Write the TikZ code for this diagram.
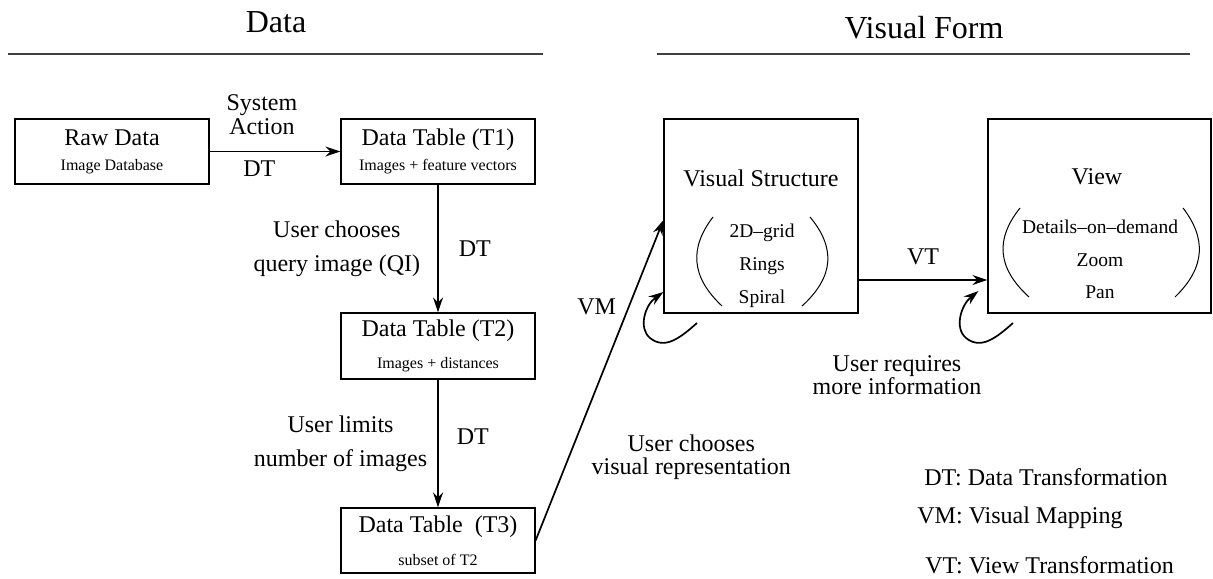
\documentclass[tikz,border=0pt]{standalone}
\usepackage{fontspec}
\setmainfont{Liberation Serif}
\usetikzlibrary{arrows.meta}
\newcommand{\boxnote}[1]{{\fontsize{8}{10}\selectfont #1}}
\tikzset{tbl/.style={draw,line width=0.6pt,minimum width=97pt,minimum height=32.5pt,
  align=center,inner sep=0pt,font=\fontsize{12}{14}\selectfont},
  bigbox/.style={draw,line width=0.6pt,minimum width=97pt,minimum height=97pt,inner sep=0pt},
  head/.style={font=\fontsize{16}{18}\selectfont,inner sep=0pt},
  rule/.style={line width=0.8pt,black!75},
  flow/.style={-{Stealth[length=7.5pt,width=5pt,inset=2.5pt]},line width=0.85pt},
  lab/.style={font=\fontsize{12}{11.8}\selectfont,align=center,inner sep=0pt},
  widelab/.style={lab,font=\fontsize{12}{16.8}\selectfont},
  list/.style={font=\fontsize{9.75}{16.4}\selectfont,align=center,inner sep=0pt},
  paren/.style={line width=0.5pt}}
\begin{document}
\begin{tikzpicture}[x=0.5pt,y=-0.5pt]
\useasboundingbox (0,0) rectangle (1213,578);
% headings
\node[head] (datahead) at (276,22) {Data};
\node[head] (formhead) at (924,28) {Visual Form};
\draw[rule] (8,54) -- (543,54);
\draw[rule] (657,54) -- (1190,54);
% data tables
\node[tbl] (raw) at (112,151.5) {Raw Data\\[-1.5pt]\boxnote{Image Database}};
\node[tbl] (tone) at (438,151.5) {Data Table (T1)\\[-1.5pt]\boxnote{Images + feature vectors}};
\node[tbl,minimum height=33pt] (ttwo) at (438,346) {Data Table (T2)\\[2pt]\boxnote{Images + distances}};
\node[tbl] (tthree) at (438,540.5) {Data Table~ (T3)\\[2.5pt]\boxnote{subset of T2}};
% visual structure and view
\node[bigbox] (vs) at (761,216) {};
\node[lab] (vstitle) at (761,178) {Visual Structure};
\node[list] (vslist) at (762,266) {2D--grid\\Rings\\Spiral};
\draw[paren] (713,217) .. controls (690,247) and (690,276) .. (722,306);
\draw[paren] (810,217) .. controls (835,247) and (835,276) .. (802,306);
\node[bigbox,minimum width=111.5pt] (view) at (1099.5,216) {};
\node[lab] (viewtitle) at (1097,177) {View};
\node[list] (viewlist) at (1100,259.5) {Details--on--demand\\Zoom\\Pan};
\draw[paren] (1020,208) .. controls (996,238) and (996,267) .. (1029,297);
\draw[paren] (1183,208) .. controls (1206,238) and (1206,267) .. (1175,297);
% transformations
\draw[flow] (raw) -- node[lab,above=8pt,pos=0.4] {System\\Action} node[lab,below=4pt,pos=0.38] {DT} (tone);
\draw[flow] (tone) -- node[widelab,left=8.5pt] {User chooses\\query image (QI)} node[lab,right=10pt] {DT} (ttwo);
\draw[flow] (ttwo) -- node[widelab,left=5pt] {User limits\\number of images} node[lab,right=9pt,pos=0.45] {DT} (tthree);
\draw[flow] (tthree.east) -- node[lab,pos=0.73,left=6pt] {VM} node[lab,pos=0.26,right=11pt] {User chooses\\visual representation} ([yshift=-2pt]vs.west);
\draw[flow] ([yshift=-32pt]vs.east) -- node[lab,above=7pt] {VT} ([yshift=-32pt]view.west);
\coordinate (vsfree) at (697,323);
\coordinate (viewfree) at (1013,323);
\draw[flow] (vsfree) .. controls (680,338) and (665,350) .. (650,338) .. controls (638,328) and (645,305) .. ([yshift=-38pt]vs.west);
\draw[flow] (viewfree) .. controls (996,338) and (981,350) .. (966,338) .. controls (954,328) and (961,305) .. ([xshift=-4.5pt,yshift=-37.5pt]view.west);
\node[lab] (requires) at (897,375) {User requires\\more information};
% legend
\node[lab,anchor=west] (dtkey) at (924,477) {DT: Data Transformation};
\node[lab,anchor=west] (vmkey) at (917,518) {VM: Visual Mapping};
\node[lab,anchor=west] (vtkey) at (925,565) {VT: View Transformation};
\end{tikzpicture}
\end{document}
